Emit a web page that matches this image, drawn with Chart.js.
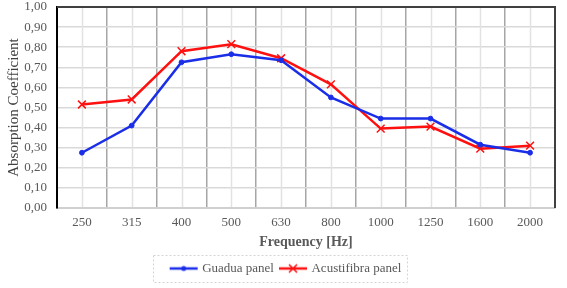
<!DOCTYPE html>
<html>
<head>
<meta charset="utf-8">
<script src="https://cdn.jsdelivr.net/npm/chart.js@4"></script>
<style>
  body { margin: 0; background: #fff; }
  #wrap { width: 567px; height: 288px; }
</style>
</head>
<body>
<div id="wrap"><canvas id="absorption" width="567" height="288"></canvas></div>
<script>
const frequencies = ['250', '315', '400', '500', '630', '800', '1000', '1250', '1600', '2000'];
const guadua = [0.275, 0.41, 0.725, 0.765, 0.735, 0.55, 0.445, 0.445, 0.315, 0.275];
const acustifibra = [0.515, 0.54, 0.78, 0.815, 0.745, 0.615, 0.395, 0.405, 0.295, 0.31];

const serif = "'Liberation Serif', 'DejaVu Serif', serif";

// small legend swatches: line with the marker on it
function swatch(color, kind) {
    const c = document.createElement('canvas');
    c.width = 30; c.height = 12;
    const g = c.getContext('2d');
    g.strokeStyle = color; g.fillStyle = color; g.lineWidth = 2.5;
    g.beginPath(); g.moveTo(1, 6); g.lineTo(29, 6); g.stroke();
    if (kind === 'dot') {
        g.beginPath(); g.arc(15, 6, 2.5, 0, Math.PI * 2); g.fill();
    } else {
        g.lineWidth = 1.5;
        g.beginPath();
        g.moveTo(11, 2); g.lineTo(19, 10);
        g.moveTo(19, 2); g.lineTo(11, 10);
        g.stroke();
    }
    return c;
}

const frame = {
    id: 'frame',
    afterLayout(chart) {
        // nudge legend to where the original sits
        const l = chart.legend;
        l.left += 9; l.right += 9;
        l.top += 1; l.bottom += 1;
    },
    beforeDatasetsDraw(chart) {
        const ctx = chart.ctx, a = chart.chartArea, x = chart.scales.x;
        ctx.save();
        ctx.strokeStyle = '#e2e2e2';
        ctx.lineWidth = 1.5;
        for (let i = 0; i < frequencies.length; i++) {
            const px = Math.round(x.getPixelForTick(i)) + 0.5;
            ctx.beginPath(); ctx.moveTo(px, a.top); ctx.lineTo(px, a.bottom - 1); ctx.stroke();
        }
        ctx.strokeStyle = '#404040';
        ctx.lineWidth = 2;
        ctx.beginPath();
        ctx.moveTo(a.left, a.top); ctx.lineTo(a.right, a.top); ctx.lineTo(a.right, a.bottom);
        ctx.stroke();
        ctx.restore();
    },
    afterDraw(chart) {
        const l = chart.legend, ctx = chart.ctx;
        ctx.save();
        ctx.strokeStyle = '#d4d4d4';
        ctx.setLineDash([2, 2]);
        ctx.lineWidth = 1;
        ctx.strokeRect(153.5, l.top + 0.5, 254, 27);
        ctx.restore();
    }
};

new Chart(document.getElementById('absorption').getContext('2d'), {
    type: 'line',
    data: {
        labels: frequencies,
        datasets: [{
            label: 'Guadua panel',
            data: guadua,
            borderColor: '#1a2ee8',
            backgroundColor: '#1a2ee8',
            borderWidth: 2.5,
            pointRadius: 2.4,
            pointBorderWidth: 1,
            pointStyle: 'circle',
            fill: false
        }, {
            label: 'Acustifibra panel',
            data: acustifibra,
            borderColor: '#ff1010',
            backgroundColor: '#ff1010',
            borderWidth: 2.5,
            pointRadius: 5.5,
            pointBorderWidth: 1.5,
            pointStyle: 'crossRot',
            fill: false
        }]
    },
    options: {
        responsive: false,
        animation: false,
        layout: { padding: { left: 0, right: 12, top: 5, bottom: 4 } },
        plugins: {
            tooltip: { enabled: false },
            legend: {
                position: 'bottom',
                labels: {
                    usePointStyle: true,
                    pointStyleWidth: 24,
                    padding: 7,
                    color: '#595959',
                    font: { family: serif, size: 13 },
                    generateLabels(chart) {
                        return chart.data.datasets.map((d, i) => ({
                            text: d.label,
                            pointStyle: swatch(d.borderColor, i === 0 ? 'dot' : 'cross'),
                            fontColor: '#595959',
                            strokeStyle: d.borderColor,
                            fillStyle: d.borderColor,
                            lineWidth: 0,
                            datasetIndex: i
                        }));
                    }
                }
            }
        },
        scales: {
            x: {
                offset: true,
                afterFit: s => { s.height = 46; },
                grid: { offset: true, color: '#a6a6a6', lineWidth: 1.5, drawTicks: false },
                border: { color: '#d0d0d0', width: 2 },
                ticks: { color: '#595959', padding: 7, font: { family: serif, size: 13 } },
                title: {
                    display: true,
                    text: 'Frequency [Hz]',
                    color: '#595959',
                    padding: { top: 2, bottom: 3 },
                    font: { family: serif, size: 14, weight: 'bold' }
                }
            },
            y: {
                min: 0,
                max: 1,
                afterFit: s => { s.width = 57; s.paddingTop = 0; s.paddingBottom = 0; },
                grid: { color: '#d9d9d9', lineWidth: 1.5, drawTicks: false },
                border: { color: '#000', width: 2 },
                ticks: {
                    stepSize: 0.1,
                    color: '#595959',
                    padding: 10,
                    font: { family: serif, size: 13 },
                    callback: v => v.toFixed(2).replace('.', ',')
                },
                title: {
                    display: true,
                    text: 'Absorption Coefficient',
                    color: '#404040',
                    padding: { top: 5, bottom: 0 },
                    font: { family: serif, size: 15 }
                }
            }
        }
    },
    plugins: [frame]
});
</script>
</body>
</html>
